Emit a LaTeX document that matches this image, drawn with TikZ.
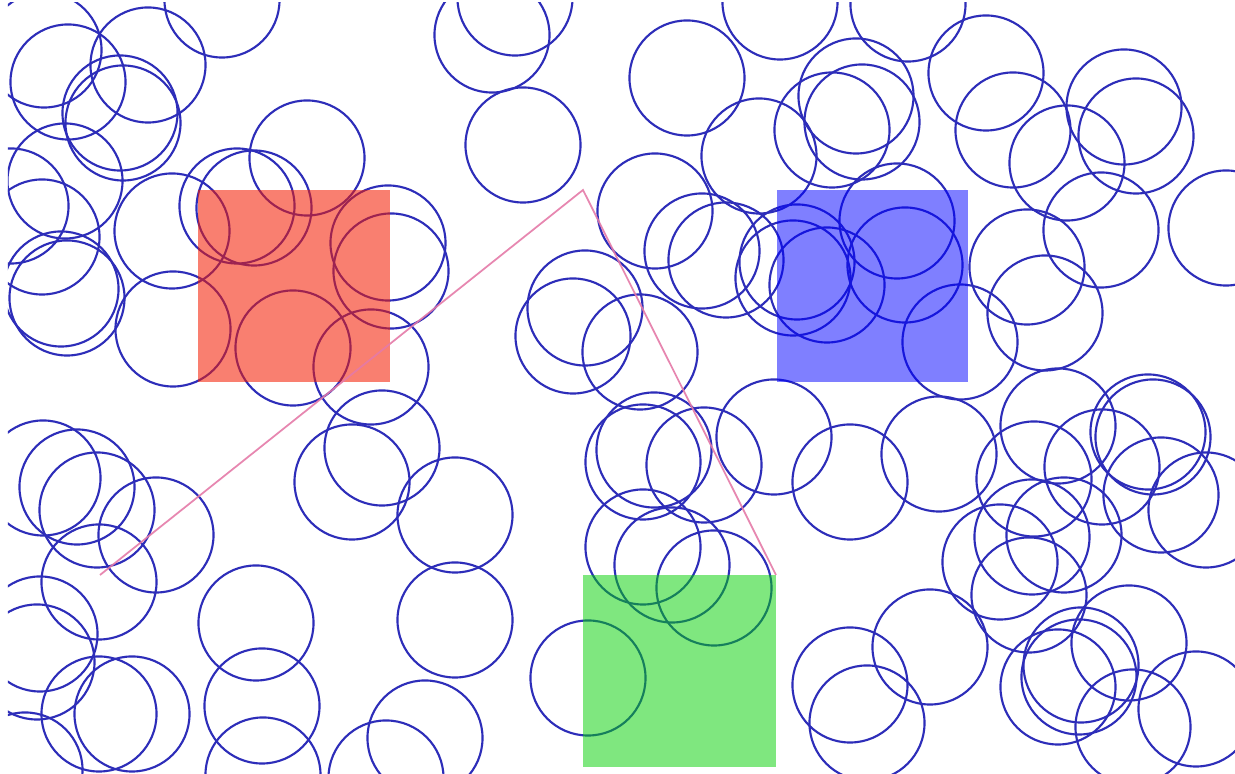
\documentclass[tikz,border=0pt]{standalone}
\usepackage{tikz}
\definecolor{ringblue}{RGB}{45,45,185}
\definecolor{tilered}{RGB}{246,28,0}
\definecolor{tileblue}{RGB}{0,0,255}
\definecolor{tilegreen}{RGB}{0,209,0}
\definecolor{routepink}{HTML}{E57AA8}

\begin{document}
\begin{tikzpicture}[x=0.01cm,y=-0.01cm,
    ring/.style={draw=ringblue,line width=0.6pt},
    tile/.style={fill opacity=0.5},
    route/.style={draw=routepink,line width=0.5pt,draw opacity=0.9,line join=miter}
  ]
    \useasboundingbox[fill=white] (0,0) rectangle (1235,774);
    \clip (8,3) rectangle (1235,774);
    % obstacles
    \foreach \cx/\cy in {44/50,68/82,148/65,120/113,123/123,222/0,65/181,11/206,42/237,61/289,
        67/298,172/231,237/206,254/208,307/158,388/243,391/271,173/329,293/348,371/367,
        43/478,77/487,97/510,156/535,99/582,40/634,37/662,99/714,132/714,25/770,
        256/623,262/706,263/775,352/482,382/448,455/515,455/620,425/738,386/778,
        492/35,515/-2,523/145,687/78,780/2,759/156,655/211,702/251,726/260,585/308,573/336,640/352,
        643/462,654/450,704/465,774/437,643/547,672/565,714/588,588/678,
        856/96,862/122,832/130,908/4,986/73,1013/130,1067/163,1124/107,1136/136,1101/230,
        1226/228,1027/267,1045/313,897/221,905/265,793/278,797/262,827/285,960/342,
        850/482,939/454,1058/426,1034/479,1102/467,1148/432,1153/437,1161/495,1206/510,
        1032/537,1064/535,1000/562,1029/595,930/647,850/685,867/723,1129/643,1081/665,
        1079/677,1058/687,1133/727,1196/709}
      \draw[ring] (\cx,\cy) circle[radius=5.75mm];
    % squares
    \fill[tile,tilered,fill opacity=0.56] (198,190) rectangle (390,382);
    \fill[tile,tileblue] (777,190) rectangle (968,382);
    \fill[tile,tilegreen] (583,575) rectangle (776,767);
    % path
    \coordinate (start) at (100,575);
    \coordinate (turn) at (583,190);
    \coordinate (goal) at (776,575);
    \draw[route] (start) -- (turn) -- (goal);
  \end{tikzpicture}
\end{document}
